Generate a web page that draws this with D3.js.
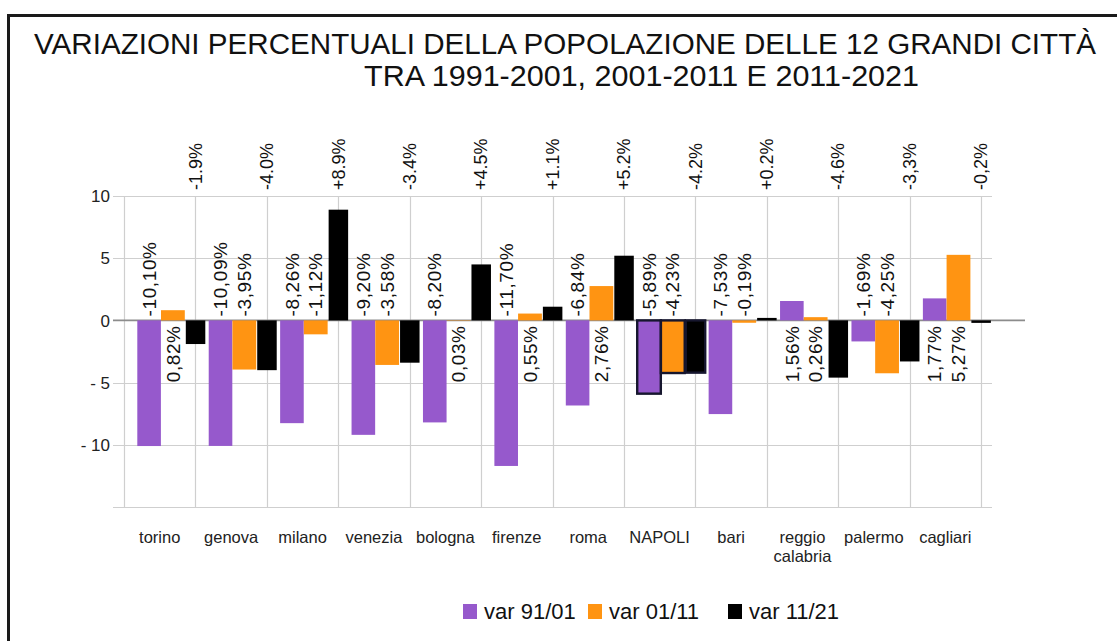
<!DOCTYPE html>
<html>
<head>
<meta charset="utf-8">
<script src="https://cdn.jsdelivr.net/npm/d3@7"></script>
<style>
  html, body { margin: 0; padding: 0; background: #fff; }
  svg { display: block; font-family: "Liberation Sans", Arial, sans-serif; }
</style>
</head>
<body>
<svg id="chart" width="1117" height="641"></svg>
<script>
// Population change of the 12 largest Italian cities, three decades
const categories = ["torino", "genova", "milano", "venezia", "bologna", "firenze",
  "roma", "NAPOLI", "bari", "reggio calabria", "palermo", "cagliari"];
const seriesNames = ["var 91/01", "var 01/11", "var 11/21"];
const var9101 = [-10.10, -10.09, -8.26, -9.20, -8.20, -11.70, -6.84, -5.89, -7.53, 1.56, -1.69, 1.77];
const var0111 = [0.82, -3.95, -1.12, -3.58, 0.03, 0.55, 2.76, -4.23, -0.19, 0.26, -4.25, 5.27];
const var1121 = [-1.9, -4.0, 8.9, -3.4, 4.5, 1.1, 5.2, -4.2, 0.2, -4.6, -3.3, -0.2];
const var1121Labels = ["-1.9%", "-4.0%", "+8.9%", "-3.4%", "+4.5%", "+1.1%", "+5.2%",
  "-4.2%", "+0.2%", "-4.6%", "-3,3%", "-0,2%"];
const yTickValues = [-10, -5, 0, 5, 10];
const yTickLabels = ["- 10", "- 5", "0", "5", "10"];
const highlighted = ["NAPOLI"];
const titleLines = ["VARIAZIONI PERCENTUALI DELLA POPOLAZIONE DELLE 12 GRANDI CITTÀ",
  "TRA 1991-2001, 2001-2011  E 2011-2021"];

const colors = ["#9659cc", "#ff9412", "#000000"];
const seriesValues = [var9101, var0111, var1121];

const svg = d3.select("#chart");

// frame (top and left edges)
svg.append("line").attr("x1", 8).attr("x2", 1117).attr("y1", 15.5).attr("y2", 15.5)
  .attr("stroke", "#1a1a1a").attr("stroke-width", 3);
svg.append("line").attr("x1", 8.5).attr("x2", 8.5).attr("y1", 14).attr("y2", 641)
  .attr("stroke", "#1a1a1a").attr("stroke-width", 3);

// title
svg.append("text").attr("x", 34).attr("y", 54).attr("font-size", 29).attr("fill", "#111")
  .attr("textLength", 1062).attr("lengthAdjust", "spacingAndGlyphs").text(titleLines[0]);
svg.append("text").attr("x", 364).attr("y", 86).attr("font-size", 29).attr("fill", "#111")
  .attr("textLength", 555).attr("lengthAdjust", "spacingAndGlyphs").text(titleLines[1]);

// scales
const x = d3.scaleBand().domain(categories).range([124, 981]).padding(0);
const y = d3.scaleLinear().domain([-15, 10]).range([507, 196]);

const barOffset = [13.3, 37, 61.8];
const barWidth = [23.6, 23.8, 19.5];

const grid = svg.append("g");
// horizontal grid lines (including tick stubs on the left)
grid.selectAll("line.h").data(d3.range(-15, 11, 5).filter(v => v !== 0)).join("line")
  .attr("x1", 113).attr("x2", 992)
  .attr("y1", d => Math.round(y(d)) + 0.5).attr("y2", d => Math.round(y(d)) + 0.5)
  .attr("stroke", "#cfcfcf").attr("stroke-width", 1.2);
// vertical grid lines at category boundaries
const bounds = categories.map(c => x(c)).concat([x.range()[1]]);
grid.selectAll("line.v").data(bounds).join("line")
  .attr("x1", d => Math.round(d) + 0.5).attr("x2", d => Math.round(d) + 0.5)
  .attr("y1", y(10)).attr("y2", y(-15))
  .attr("stroke", "#cfcfcf").attr("stroke-width", 1.2);

// zero axis
svg.append("line").attr("x1", 113).attr("x2", 1025)
  .attr("y1", y(0)).attr("y2", y(0))
  .attr("stroke", "#8c8c8c").attr("stroke-width", 1.8);

// y tick labels
svg.append("g").selectAll("text").data(yTickValues).join("text")
  .attr("x", 110).attr("y", d => y(d)).attr("dy", "0.36em")
  .attr("text-anchor", "end").attr("font-size", 17).attr("fill", "#222")
  .text((d, i) => yTickLabels[i]);

// bars
seriesValues.forEach((vals, s) => {
  svg.append("g").selectAll("rect").data(vals).join("rect")
    .attr("x", (d, i) => x(categories[i]) + barOffset[s])
    .attr("width", barWidth[s])
    .attr("y", d => Math.min(y(d), y(0)))
    .attr("height", d => Math.abs(y(d) - y(0)))
    .attr("fill", colors[s])
    .attr("stroke", (d, i) => highlighted.includes(categories[i]) ? "#16162e" : "none")
    .attr("stroke-width", 2.4);
});

// value labels for the first two series, on the opposite side of the zero line
const fmt = v => d3.format(".2f")(v).replace("\u2212", "-").replace(".", ",") + "%";
[0, 1].forEach(s => {
  svg.append("g").selectAll("text").data(seriesValues[s]).join("text")
    .attr("transform", (d, i) => {
      const cx = x(categories[i]) + barOffset[s] + barWidth[s] / 2;
      const cy = d < 0 ? y(0) - 4 : y(0) + 5;
      return `translate(${cx},${cy}) rotate(-90)`;
    })
    .attr("dy", "0.35em")
    .attr("text-anchor", d => d < 0 ? "start" : "end")
    .attr("font-size", 19).attr("letter-spacing", 0.6).attr("fill", "#111")
    .text(d => fmt(d));
});

// decade 2011-2021 labels above the plot, at the category boundaries
svg.append("g").selectAll("text").data(var1121Labels).join("text")
  .attr("transform", (d, i) => `translate(${x(categories[i]) + x.bandwidth()},190) rotate(-90)`)
  .attr("dy", "0.35em").attr("text-anchor", "start")
  .attr("font-size", 18).attr("fill", "#111")
  .text(d => d);

// category labels
const catText = svg.append("g").selectAll("text").data(categories).join("text")
  .attr("x", d => x(d) + x.bandwidth() / 2).attr("y", 543)
  .attr("text-anchor", "middle").attr("font-size", 16.5).attr("fill", "#222");
catText.each(function (d) {
  const words = d.split(" ");
  const t = d3.select(this);
  words.forEach((w, k) => {
    t.append("tspan").attr("x", x(d) + x.bandwidth() / 2).attr("dy", k === 0 ? 0 : 19).text(w);
  });
});

// legend
const legendX = [463, 588, 728];
const lg = svg.append("g").selectAll("g").data(seriesNames).join("g")
  .attr("transform", (d, i) => `translate(${legendX[i]},604)`);
lg.append("rect").attr("width", 14).attr("height", 15).attr("fill", (d, i) => colors[i]);
lg.append("text").attr("x", 21).attr("y", 15).attr("font-size", 22).attr("fill", "#111")
  .text(d => d);
</script>
</body>
</html>
